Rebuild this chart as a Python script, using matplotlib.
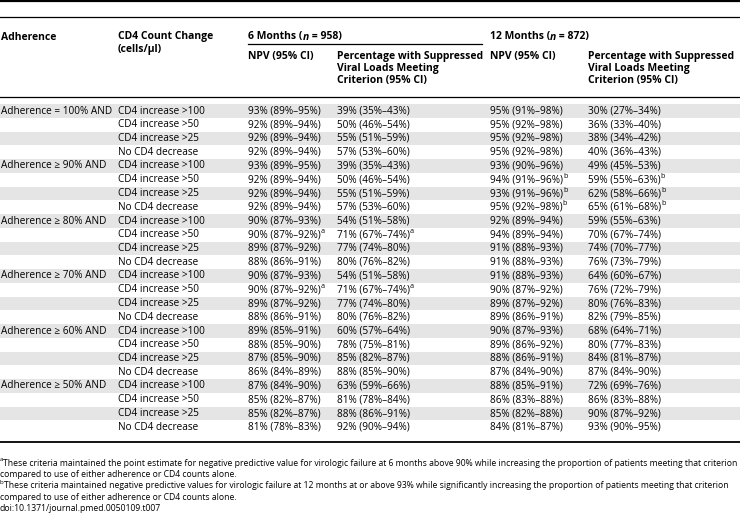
import matplotlib
matplotlib.use("Agg")
import matplotlib.pyplot as plt
from matplotlib.patches import Rectangle

# table data
adherence = ["Adherence = 100% AND", "Adherence \u2265 90% AND", "Adherence \u2265 80% AND",
             "Adherence \u2265 70% AND", "Adherence \u2265 60% AND", "Adherence \u2265 50% AND"]
cd4_change = ["CD4 increase >100", "CD4 increase >50", "CD4 increase >25", "No CD4 decrease"]

npv_6 = ["93% (89%\u201395%)", "92% (89%\u201394%)", "92% (89%\u201394%)", "92% (89%\u201394%)",
         "93% (89%\u201395%)", "92% (89%\u201394%)", "92% (89%\u201394%)", "92% (89%\u201394%)",
         "90% (87%\u201393%)", "90% (87%\u201392%)", "89% (87%\u201392%)", "88% (86%\u201391%)",
         "90% (87%\u201393%)", "90% (87%\u201392%)", "89% (87%\u201392%)", "88% (86%\u201391%)",
         "89% (85%\u201391%)", "88% (85%\u201390%)", "87% (85%\u201390%)", "86% (84%\u201389%)",
         "87% (84%\u201390%)", "85% (82%\u201387%)", "85% (82%\u201387%)", "81% (78%\u201383%)"]
pct_6 = ["39% (35%\u201343%)", "50% (46%\u201354%)", "55% (51%\u201359%)", "57% (53%\u201360%)",
         "39% (35%\u201343%)", "50% (46%\u201354%)", "55% (51%\u201359%)", "57% (53%\u201360%)",
         "54% (51%\u201358%)", "71% (67%\u201374%)", "77% (74%\u201380%)", "80% (76%\u201382%)",
         "54% (51%\u201358%)", "71% (67%\u201374%)", "77% (74%\u201380%)", "80% (76%\u201382%)",
         "60% (57%\u201364%)", "78% (75%\u201381%)", "85% (82%\u201387%)", "88% (85%\u201390%)",
         "63% (59%\u201366%)", "81% (78%\u201384%)", "88% (86%\u201391%)", "92% (90%\u201394%)"]
npv_12 = ["95% (91%\u201398%)", "95% (92%\u201398%)", "95% (92%\u201398%)", "95% (92%\u201398%)",
          "93% (90%\u201396%)", "94% (91%\u201396%)", "93% (91%\u201396%)", "95% (92%\u201398%)",
          "92% (89%\u201394%)", "94% (89%\u201394%)", "91% (88%\u201393%)", "91% (88%\u201393%)",
          "91% (88%\u201393%)", "90% (87%\u201392%)", "89% (87%\u201392%)", "89% (86%\u201391%)",
          "90% (87%\u201393%)", "89% (86%\u201392%)", "88% (86%\u201391%)", "87% (84%\u201390%)",
          "88% (85%\u201391%)", "86% (83%\u201388%)", "85% (82%\u201388%)", "84% (81%\u201387%)"]
pct_12 = ["30% (27%\u201334%)", "36% (33%\u201340%)", "38% (34%\u201342%)", "40% (36%\u201343%)",
          "49% (45%\u201353%)", "59% (55%\u201363%)", "62% (58%\u201366%)", "65% (61%\u201368%)",
          "59% (55%\u201363%)", "70% (67%\u201374%)", "74% (70%\u201377%)", "76% (73%\u201379%)",
          "64% (60%\u201367%)", "76% (72%\u201379%)", "80% (76%\u201383%)", "82% (79%\u201385%)",
          "68% (64%\u201371%)", "80% (77%\u201383%)", "84% (81%\u201387%)", "87% (84%\u201390%)",
          "72% (69%\u201376%)", "86% (83%\u201388%)", "90% (87%\u201392%)", "93% (90%\u201395%)"]
# footnote marks (row index -> mark)
marks_6 = {9: "a", 13: "a"}
marks_12 = {5: "b", 6: "b", 7: "b"}

footnotes = [
    ("a", "These criteria maintained the point estimate for negative predictive value for virologic failure at 6 months above 90% while increasing the proportion of patients meeting that criterion",
     "compared to use of either adherence or CD4 counts alone."),
    ("b", "These criteria maintained negative predictive values for virologic failure at 12 months at or above 93% while significantly increasing the proportion of patients meeting that criterion",
     "compared to use of either adherence or CD4 counts alone."),
]
doi = "doi:10.1371/journal.pmed.0050109.t007"

FONT = ["Open Sans", "DejaVu Sans"]
FS = 7.2      # body
HS = 7.5      # bold header

fig = plt.figure(figsize=(7.4, 5.17), dpi=100)
ax = fig.add_axes([0, 0, 1, 1])
ax.set_xlim(0, 740)
ax.set_ylim(517, 0)
ax.axis("off")
fig.canvas.draw()
renderer = fig.canvas.get_renderer()


def put_runs(x, y, runs, size=FS):
    # draw consecutive text pieces, each with its own style
    x0 = x
    for txt, kw in runs:
        kw = dict(kw)
        sup = kw.pop("sup", False)
        s = size * 0.72 if sup else size
        yy = y - 3.3 if sup else y
        t = ax.text(x, yy, txt, fontsize=s, family=FONT, va="center", ha="left", **kw)
        bb = t.get_window_extent(renderer=renderer)
        x += bb.width
    return x - x0


cols = [1, 118, 248, 337, 490, 588]
row0 = 111
pitch = 13.75

# rules
ax.plot([0, 740], [1.2, 1.2], color="black", lw=1.6)
ax.plot([0, 740], [17, 17], color="black", lw=0.9)
ax.plot([248, 482], [44, 44], color="black", lw=0.9)
ax.plot([0, 740], [97, 97], color="black", lw=0.9)

# header
B = {"fontweight": "bold"}
BI = {"fontweight": "bold", "style": "italic"}
put_runs(cols[0], 37, [("Adherence", B)], HS)
put_runs(cols[1], 37, [("CD4 Count Change", B)], HS)
put_runs(cols[1], 49.5, [("(cells/\u03bcl)", B)], HS)
put_runs(cols[2], 37, [("6 Months (", B), ("n", BI), (" = 958)", B)], HS)
put_runs(cols[4], 37, [("12 Months (", B), ("n", BI), (" = 872)", B)], HS)
for c in (2, 4):
    put_runs(cols[c], 57, [("NPV (95% CI)", B)], HS)
for c in (3, 5):
    put_runs(cols[c], 57, [("Percentage with Suppressed", B)], HS)
    put_runs(cols[c], 69, [("Viral Loads Meeting", B)], HS)
    put_runs(cols[c], 81, [("Criterion (95% CI)", B)], HS)

# body
for i in range(len(npv_6)):
    y = row0 + i * pitch
    if i % 2 == 0:
        ax.add_patch(Rectangle((0, y - pitch / 2), 740, pitch, color="#e5e5e5", lw=0, zorder=0))
    if i % 4 == 0:
        put_runs(cols[0], y, [(adherence[i // 4], {})])
    put_runs(cols[1], y, [(cd4_change[i % 4], {})])
    for c, vals, marks in ((2, npv_6, marks_6), (3, pct_6, marks_6), (4, npv_12, marks_12), (5, pct_12, marks_12)):
        runs = [(vals[i], {})]
        if i in marks:
            runs.append((marks[i], {"sup": True}))
        put_runs(cols[c], y, runs)

ax.plot([0, 740], [442, 442], color="black", lw=1.3)

# footnotes: size chosen so the first line ends near the right edge
probe = ax.text(0, 0, footnotes[0][1], fontsize=10, family=FONT)
w10 = probe.get_window_extent(renderer=renderer).width
probe.remove()
NS = 10 * 728 / w10
fy = 463
for mark, line1, line2 in footnotes:
    put_runs(0, fy, [(mark, {"sup": True}), (line1, {})], NS)
    put_runs(0, fy + 11.4, [(line2, {})], NS)
    fy += 22.8
put_runs(0, fy, [(doi, {})], NS)

fig.savefig("out.png", dpi=100)
